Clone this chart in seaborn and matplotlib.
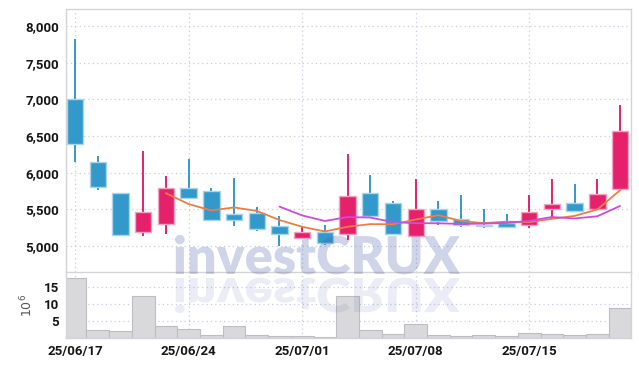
import numpy as np
import pandas as pd
import seaborn as sns
import matplotlib.pyplot as plt
from matplotlib.textpath import TextPath
from matplotlib.patches import PathPatch
from matplotlib.font_manager import FontProperties
from matplotlib.transforms import Affine2D

# ─────────────────────────────────────────
# data
# ─────────────────────────────────────────
dates = ["25/06/17", "25/06/18", "25/06/19", "25/06/20", "25/06/23",
         "25/06/24", "25/06/25", "25/06/26", "25/06/27", "25/06/30",
         "25/07/01", "25/07/02", "25/07/03", "25/07/04", "25/07/07",
         "25/07/08", "25/07/09", "25/07/10", "25/07/11", "25/07/14",
         "25/07/15", "25/07/16", "25/07/17", "25/07/18", "25/07/21"]
opens = [7000, 6150, 5720, 5190, 5300, 5790, 5750, 5430, 5450, 5270,
         5110, 5190, 5170, 5720, 5580, 5140, 5500, 5370, 5290, 5320,
         5280, 5500, 5580, 5500, 5780]
highs = [7820, 6230, 5720, 6290, 5950, 6190, 5790, 5930, 5530, 5410,
         5260, 5280, 6260, 5970, 5610, 5910, 5610, 5690, 5500, 5440,
         5690, 5910, 5840, 5910, 6920]
lows = [6140, 5760, 5140, 5130, 5170, 5650, 5340, 5270, 5210, 5000,
        5100, 5010, 5080, 5400, 5150, 5120, 5280, 5260, 5240, 5240,
        5240, 5390, 5480, 5500, 5780]
closes = [6390, 5800, 5150, 5470, 5790, 5650, 5360, 5360, 5230, 5170,
          5190, 5040, 5680, 5410, 5160, 5510, 5340, 5280, 5270, 5260,
          5470, 5570, 5480, 5710, 6570]
volumes = [17.6, 2.4, 2.0, 12.3, 3.5, 2.7, 0.9, 3.5, 0.8, 0.7,
           0.5, 0.4, 12.3, 2.4, 1.1, 4.1, 0.9, 0.6, 0.8, 0.6,
           1.4, 1.1, 0.8, 1.1, 8.7]  # millions
tick_dates = ["25/06/17", "25/06/24", "25/07/01", "25/07/08", "25/07/15"]

df = pd.DataFrame({"date": dates, "open": opens, "high": highs,
                   "low": lows, "close": closes, "volume": volumes})
df["i"] = np.arange(len(df))
df["ma5"] = df["close"].rolling(5).mean()
df["ma10"] = df["close"].rolling(10).mean()

UP, UP_EDGE = "#E5216B", "#F6A3C2"
DOWN, DOWN_EDGE = "#3399CA", "#A9D4EC"
GRID = "#C9CCE0"
SPINE = "#D4D4D8"

sns.set_theme(style="white")
plt.rcParams["font.family"] = ["Roboto", "DejaVu Sans"]

fig = plt.figure(figsize=(6.39, 3.66), dpi=100)
ax = fig.add_axes([66 / 639, 1 - 272 / 366, 564.5 / 639, 263 / 366])
axv = fig.add_axes([66 / 639, 1 - 338 / 366, 564.5 / 639, 66 / 366], sharex=ax)

# ─────────────────────────────────────────
# candles
# ─────────────────────────────────────────
up = df["close"] >= df["open"]
cols = np.where(up, UP, DOWN)
edges = np.where(up, UP_EDGE, DOWN_EDGE)
ax.vlines(df["i"], df["low"], df["high"], colors=cols, linewidth=1.4, zorder=2)
ax.bar(df["i"], (df["close"] - df["open"]).abs(),
       bottom=df[["open", "close"]].min(axis=1), width=0.72,
       color=cols, edgecolor=edges, linewidth=1.0, zorder=3)

sns.lineplot(data=df, x="i", y="ma5", color="#EE7D45", linewidth=1.3,
             ax=ax, zorder=4)
sns.lineplot(data=df, x="i", y="ma10", color="#CC4BE0", linewidth=1.3,
             ax=ax, zorder=4)

ax.set_ylim(4645, 8232)
ax.set_yticks(np.arange(5000, 8001, 500))
ax.set_yticklabels([f"{v:,}" for v in range(5000, 8001, 500)])
ax.set_xlim(-0.4, 24.46)
ax.set_xlabel("")
ax.set_ylabel("")

# ─────────────────────────────────────────
# volume
# ─────────────────────────────────────────
axv.bar(df["i"], df["volume"], width=1.0, color="#D9D9DB",
        edgecolor="#BDBDC2", linewidth=0.8, zorder=2)
axv.set_ylim(0, 19.4)
axv.set_yticks([5, 10, 15])
axv.set_ylabel("$10^6$", fontsize=9, color="#555555", labelpad=6,
               family="DejaVu Sans")

tick_pos = [dates.index(d) for d in tick_dates]
axv.set_xticks(tick_pos)
axv.set_xticklabels(tick_dates)
plt.setp(ax.get_xticklabels(), visible=False)

for a in (ax, axv):
    a.grid(True, color=GRID, linestyle=(0, (1, 2.5)), linewidth=0.9)
    a.set_axisbelow(True)
    for s in a.spines.values():
        s.set_color(SPINE)
        s.set_linewidth(1.0)
    a.tick_params(length=0, labelsize=9.5, labelcolor="#151515", pad=5)
    for lab in a.get_xticklabels() + a.get_yticklabels():
        lab.set_fontweight("bold")
ax.tick_params(axis="x", length=0)
ax.spines["bottom"].set_visible(False)

# ─────────────────────────────────────────
# watermark with reflection
# ─────────────────────────────────────────
fp = FontProperties(family="Lato", weight="heavy")
tp = TextPath((0, 0), "investCRUX", size=1, prop=fp)
ext = tp.get_extents()
sx = 285 / ext.width
sy = 52 / 1.0
base = 366 - 274
wm = Affine2D().translate(-ext.x0, 0).scale(sx, sy).translate(175, base)
fig.patches.append(PathPatch(wm.transform_path(tp), facecolor="#4A5BA8",
                             edgecolor="none", alpha=0.26, zorder=10))
rf = Affine2D().translate(-ext.x0, 0).scale(sx, -sy * 0.9).translate(175, base - 4)
fig.patches.append(PathPatch(rf.transform_path(tp), facecolor="#4A5BA8",
                             edgecolor="none", alpha=0.11, zorder=10))

fig.savefig("out.png", dpi=100)
